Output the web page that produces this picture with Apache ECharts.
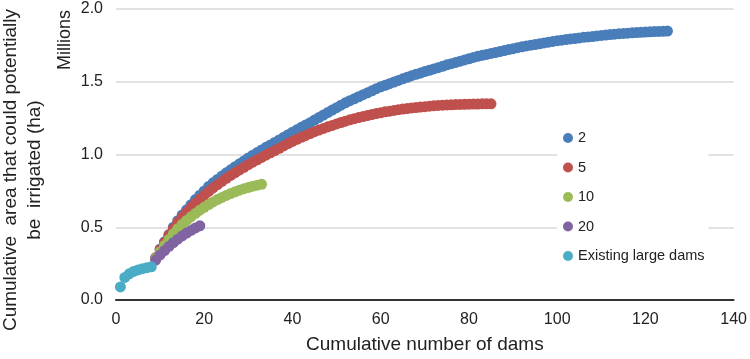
<!DOCTYPE html>
<html>
<head>
<meta charset="utf-8">
<script src="https://cdn.jsdelivr.net/npm/echarts@6/dist/echarts.min.js"></script>
<style>
  html, body { margin: 0; padding: 0; background: #fff; }
  #main { width: 750px; height: 359px; }
</style>
</head>
<body>
<div id="main"></div>
<script>
// cumulative irrigable area (millions ha), one value per dam
var existingStart = 1;
var existingDams = [0.09, 0.155, 0.18, 0.196, 0.207, 0.215, 0.222, 0.228];

var scenStart = 9; // new dams are added after the 8 existing ones
var scen20 = [0.275, 0.31, 0.34, 0.368, 0.394, 0.418, 0.44, 0.46, 0.478, 0.495, 0.51];
var scen10 = [0.285, 0.33, 0.375, 0.415, 0.455, 0.49, 0.52, 0.547, 0.572, 0.595,
  0.617, 0.637, 0.656, 0.674, 0.69, 0.705, 0.719, 0.732, 0.744, 0.755,
  0.765, 0.774, 0.782, 0.789, 0.795];
var scen5 = [0.29, 0.345, 0.395, 0.445, 0.49, 0.535, 0.57, 0.603, 0.635, 0.665,
  0.693, 0.72, 0.746, 0.77, 0.793, 0.815, 0.836, 0.856, 0.875, 0.894,
  0.912, 0.93, 0.947, 0.964, 0.98, 0.996, 1.012, 1.027, 1.043, 1.059,
  1.075, 1.09, 1.104, 1.118, 1.131, 1.144, 1.157, 1.168, 1.179, 1.19,
  1.2, 1.21, 1.22, 1.229, 1.238, 1.246, 1.254, 1.261, 1.268, 1.275,
  1.281, 1.287, 1.293, 1.298, 1.303, 1.308, 1.312, 1.316, 1.32, 1.323,
  1.326, 1.329, 1.332, 1.335, 1.337, 1.339, 1.341, 1.342, 1.343, 1.344,
  1.345, 1.346, 1.347, 1.347, 1.348, 1.348, 1.348];
var scen2 = [0.29, 0.35, 0.40, 0.45, 0.50, 0.545, 0.585, 0.62, 0.655, 0.69,
  0.72, 0.75, 0.78, 0.805, 0.829, 0.852, 0.874, 0.895, 0.916, 0.936,
  0.956, 0.976, 0.995, 1.013, 1.031, 1.049, 1.066, 1.083, 1.10, 1.118,
  1.136, 1.153, 1.17, 1.187, 1.203, 1.219, 1.237, 1.254, 1.271, 1.288,
  1.305, 1.322, 1.339, 1.355, 1.37, 1.383, 1.397, 1.411, 1.424, 1.438,
  1.452, 1.465, 1.476, 1.487, 1.498, 1.509, 1.52, 1.531, 1.542, 1.551,
  1.56, 1.57, 1.579, 1.588, 1.597, 1.606, 1.616, 1.624, 1.633, 1.641,
  1.65, 1.658, 1.667, 1.675, 1.682, 1.688, 1.695, 1.701, 1.708, 1.714,
  1.721, 1.727, 1.734, 1.74, 1.746, 1.751, 1.756, 1.761, 1.767, 1.772,
  1.777, 1.782, 1.786, 1.79, 1.794, 1.797, 1.801, 1.805, 1.808, 1.811,
  1.815, 1.818, 1.821, 1.824, 1.827, 1.83, 1.832, 1.834, 1.836, 1.838,
  1.84, 1.842, 1.843, 1.845, 1.846, 1.847, 1.848];

var seriesNames = ['2', '5', '10', '20', 'Existing large dams'];
var colors = ['#4a7ebb', '#c0504d', '#9bbb59', '#8064a2', '#4bacc6'];

var xTicks = [0, 20, 40, 60, 80, 100, 120, 140];
var yTicks = [0, 0.5, 1.0, 1.5, 2.0];

function toPoints(start, vals) {
  return vals.map(function (v, i) { return [start + i, v]; });
}

var font = '"Liberation Sans", Arial, Helvetica, sans-serif';
var txt = '#222';

var myChart = echarts.init(document.getElementById('main'));

var allData = [
  toPoints(scenStart, scen2),
  toPoints(scenStart, scen5),
  toPoints(scenStart, scen10),
  toPoints(scenStart, scen20),
  toPoints(existingStart, existingDams)
];

myChart.setOption({
  animation: false,
  color: colors,
  textStyle: { fontFamily: font },
  grid: { left: 116, right: 15, top: 9, bottom: 58, containLabel: false },
  legend: {
    orient: 'vertical',
    left: 557,
    top: 124,
    padding: [6, 4, 6, 6],
    backgroundColor: '#fff',
    itemWidth: 10,
    itemHeight: 10,
    itemGap: 13.5,
    icon: 'circle',
    data: seriesNames,
    textStyle: { fontSize: 14.5, color: txt, fontFamily: font, lineHeight: 16 }
  },
  xAxis: {
    type: 'value',
    min: xTicks[0],
    max: xTicks[xTicks.length - 1],
    interval: 20,
    name: 'Cumulative number of dams',
    nameLocation: 'middle',
    nameGap: 35,
    nameTextStyle: { fontSize: 19, color: txt, fontFamily: font },
    axisLine: { show: true, lineStyle: { color: '#333', width: 2 } },
    axisTick: { show: false },
    splitLine: { show: false },
    axisLabel: { fontSize: 16, color: txt, margin: 12, fontFamily: font }
  },
  yAxis: {
    type: 'value',
    min: yTicks[0],
    max: yTicks[yTicks.length - 1],
    interval: 0.5,
    axisLine: { show: false },
    axisTick: { show: false },
    splitLine: { show: true, lineStyle: { color: '#d9d9d9', width: 1.5 } },
    axisLabel: {
      fontSize: 16, color: txt, margin: 13, fontFamily: font,
      formatter: function (v) { return v.toFixed(1); }
    }
  },
  graphic: [
    {
      type: 'text',
      x: 23,
      y: 170,
      rotation: Math.PI / 2,
      style: {
        text: 'Cumulative  area that could potentially\nbe  irrigated (ha)',
        font: '19px ' + font,
        fill: txt,
        align: 'center',
        verticalAlign: 'middle',
        lineHeight: 23.5
      }
    },
    {
      type: 'text',
      x: 65,
      y: 40,
      rotation: Math.PI / 2,
      style: {
        text: 'Millions',
        font: '18px ' + font,
        fill: txt,
        align: 'center',
        verticalAlign: 'middle'
      }
    }
  ],
  series: seriesNames.map(function (name, i) {
    return {
      name: name,
      type: 'scatter',
      symbol: 'circle',
      symbolSize: 11,
      data: allData[i],
      itemStyle: { color: colors[i], opacity: 1, borderWidth: 0 },
      emphasis: { disabled: true }
    };
  })
});
</script>
</body>
</html>
